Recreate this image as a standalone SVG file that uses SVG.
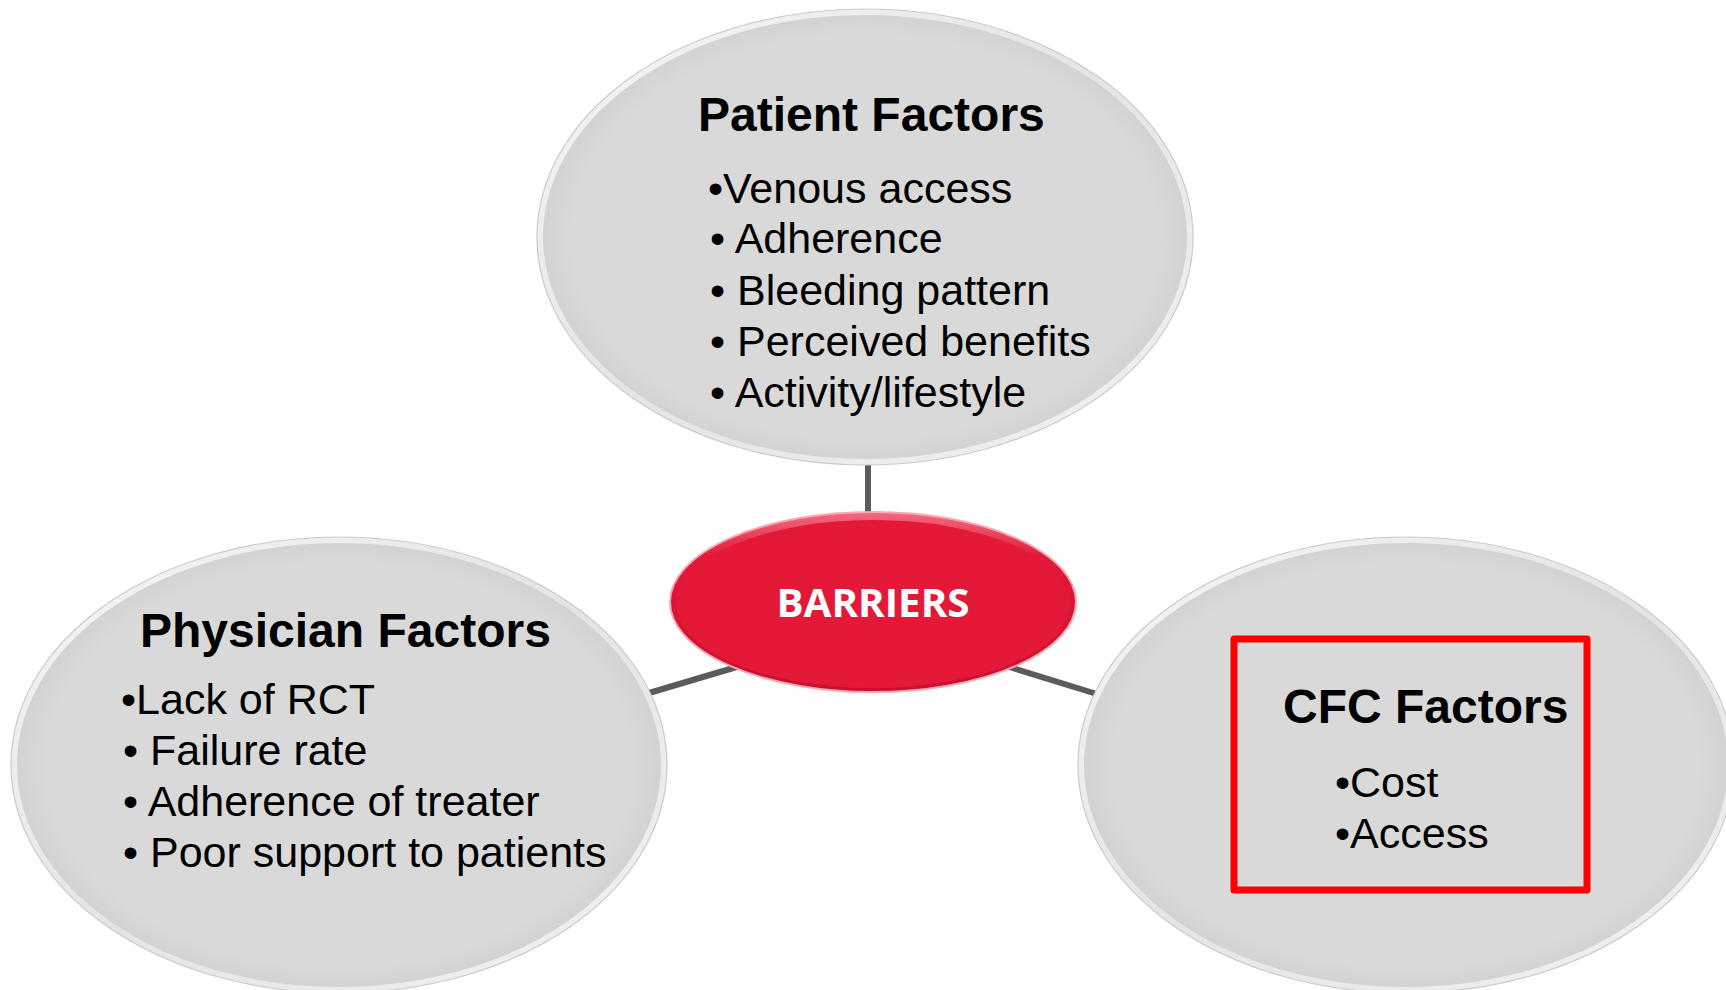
<svg xmlns="http://www.w3.org/2000/svg" width="1726" height="990" viewBox="0 0 1726 990">
  <defs>
    <!-- bevelled rim for the grey factor bubbles -->
    <linearGradient id="rim" x1="0" y1="0" x2="1" y2="1">
      <stop offset="0" stop-color="#f6f6f6"/>
      <stop offset="0.5" stop-color="#e4e4e4"/>
      <stop offset="1" stop-color="#f2f2f2"/>
    </linearGradient>
    <radialGradient id="bubble" cx="0.5" cy="0.5" r="0.5">
      <stop offset="0.9" stop-color="#d9d9d9"/>
      <stop offset="1" stop-color="#d2d2d2"/>
    </radialGradient>
    <linearGradient id="redRim" x1="0" y1="0" x2="0" y2="1">
      <stop offset="0" stop-color="#f46a80"/>
      <stop offset="0.25" stop-color="#e3193a"/>
      <stop offset="1" stop-color="#c8102e"/>
    </linearGradient>
    <style>
      .bubble { fill: url(#bubble); stroke: url(#rim); stroke-width: 6; }
      .bubble-edge { fill: none; stroke: #cacaca; stroke-width: 1.2; }
      .link { stroke: #5a5b5f; stroke-width: 6; fill: none; }
      .title { font-family: "Liberation Sans", Arial, sans-serif; font-weight: bold; font-size: 48px; fill: #000; }
      .item { font-family: "Liberation Sans", Arial, sans-serif; font-size: 43px; fill: #000; }
      .hub-label { font-family: "Open Sans", "Liberation Sans", sans-serif; font-weight: bold; font-size: 40px; fill: #fff; }
    </style>
  </defs>

  <rect width="1726" height="990" fill="#ffffff"/>

  <!-- connectors from the hub to each factor bubble -->
  <g id="connectors">
    <line class="link" x1="868" y1="458" x2="868" y2="516"/>
    <line class="link" x1="649" y1="693" x2="740" y2="666"/>
    <line class="link" x1="1006" y1="666" x2="1100" y2="695"/>
  </g>

  <!-- Patient factors -->
  <g id="patient">
    <ellipse class="bubble" cx="865" cy="237" rx="325" ry="225"/>
    <ellipse class="bubble-edge" cx="865" cy="237" rx="328" ry="228"/>
    <text class="title" x="698" y="131">Patient Factors</text>
    <text class="item" x="708" y="203">•Venous access</text>
    <text class="item" x="710" y="253">• Adherence</text>
    <text class="item" x="710" y="305">• Bleeding pattern</text>
    <text class="item" x="710" y="356">• Perceived benefits</text>
    <text class="item" x="710" y="407">• Activity/lifestyle</text>
  </g>

  <!-- Physician factors -->
  <g id="physician">
    <ellipse class="bubble" cx="339" cy="765" rx="325" ry="225"/>
    <ellipse class="bubble-edge" cx="339" cy="765" rx="328" ry="228"/>
    <text class="title" x="140" y="647">Physician Factors</text>
    <text class="item" x="121" y="714">•Lack of RCT</text>
    <text class="item" x="123" y="765">• Failure rate</text>
    <text class="item" x="123" y="816">• Adherence of treater</text>
    <text class="item" x="123" y="867">• Poor support to patients</text>
  </g>

  <!-- CFC factors, highlighted with a red frame -->
  <g id="cfc">
    <ellipse class="bubble" cx="1406" cy="765" rx="325" ry="225"/>
    <ellipse class="bubble-edge" cx="1406" cy="765" rx="328" ry="228"/>
    <rect x="1234" y="639" width="353" height="251" fill="none" stroke="#ff0000" stroke-width="7" stroke-linejoin="round"/>
    <text class="title" x="1283" y="723">CFC Factors</text>
    <text class="item" x="1335" y="797">•Cost</text>
    <text class="item" x="1335" y="848">•Access</text>
  </g>

  <!-- central hub -->
  <g id="barriers">
    <ellipse cx="873" cy="602" rx="203" ry="90" fill="url(#redRim)" stroke="#f7a8b5" stroke-width="2"/>
    <ellipse cx="873" cy="604" rx="197" ry="84" fill="#e31937"/>
    <text class="hub-label" x="873" y="617" text-anchor="middle" textLength="193" lengthAdjust="spacingAndGlyphs">BARRIERS</text>
  </g>
</svg>
